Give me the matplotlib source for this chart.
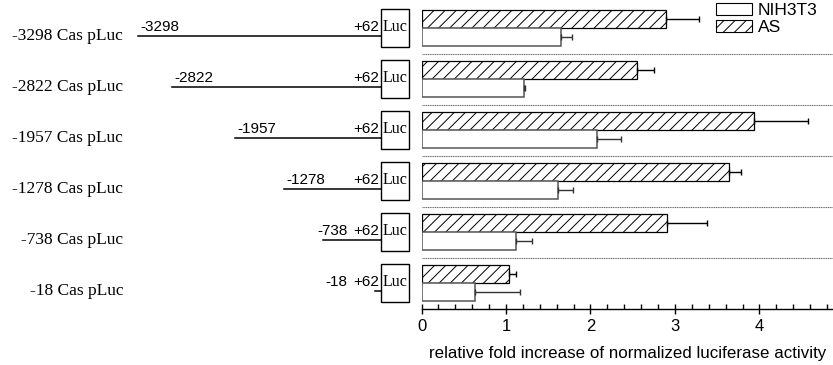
import matplotlib
matplotlib.use('Agg')
import matplotlib.pyplot as plt
from matplotlib.patches import Rectangle
from matplotlib.ticker import MultipleLocator

# data
constructs = ['-3298', '-2822', '-1957', '-1278', '-738', '-18']
starts = [-3298, -2822, -1957, -1278, -738, -18]
end_bp = 62
as_mean = [2.89, 2.55, 3.94, 3.64, 2.91, 1.03]
as_err = [0.39, 0.20, 0.63, 0.14, 0.47, 0.09]
nih_mean = [1.65, 1.21, 2.08, 1.61, 1.12, 0.63]
nih_err = [0.13, 0.02, 0.28, 0.18, 0.19, 0.54]
legend_labels = ['NIH3T3', 'AS']
xlabel = 'relative fold increase of normalized luciferase activity'

plt.rcParams['hatch.linewidth'] = 0.7
sans = 'Liberation Sans'
serif = 'Liberation Serif'

W, H = 833, 365
fig = plt.figure(figsize=(W / 100, H / 100), dpi=100)

ax_bottom = (H - 309) / H
ax_height = 309 / H
ylim = (5.51, -0.55)
n = len(constructs)
rows = list(range(n))
bh = 0.35

# ---- right: bars
ax = fig.add_axes([421.5 / W, ax_bottom, (W - 421.5) / W, ax_height])
ax.set_xlim(0, 4.87)
ax.set_ylim(*ylim)

ax.barh([r - bh / 2 for r in rows], as_mean, height=bh, color='white',
        edgecolor='black', linewidth=0.9, hatch='///', zorder=2)
ax.barh([r + bh / 2 for r in rows], nih_mean, height=bh, color='white',
        edgecolor='#555555', linewidth=1.1, zorder=2)
ax.errorbar(as_mean, [r - bh / 2 for r in rows],
            xerr=[[0] * n, as_err], fmt='none', ecolor='black',
            elinewidth=1, capsize=2.5, capthick=1, zorder=3)
ax.errorbar(nih_mean, [r + bh / 2 for r in rows],
            xerr=[[0] * n, nih_err], fmt='none', ecolor='#333333',
            elinewidth=1, capsize=2.5, capthick=1, zorder=3)

for r in rows[:-1]:
    ax.axhline(r + 0.5, color='#666666', lw=0.8, ls=(0, (1, 0.6)), zorder=1)

for s in ['left', 'top', 'right']:
    ax.spines[s].set_visible(False)
ax.spines['bottom'].set_linewidth(1)
ax.set_yticks([])
ax.xaxis.set_major_locator(MultipleLocator(1))
ax.xaxis.set_minor_locator(MultipleLocator(0.2))
ax.tick_params(axis='x', which='major', direction='inout', length=7, width=1,
               labelsize=12, pad=4)
ax.tick_params(axis='x', which='minor', direction='in', length=3.5, width=1)
for t in ax.get_xticklabels():
    t.set_fontfamily(sans)
ax.set_xlabel(xlabel, fontsize=12.2, fontfamily=sans, labelpad=8)

h1 = Rectangle((0, 0), 1, 1, facecolor='white', edgecolor='black', lw=0.8)
h2 = Rectangle((0, 0), 1, 1, facecolor='white', edgecolor='black', lw=0.8,
               hatch='///')
fig.legend([h1, h2], legend_labels, loc='upper left',
           bbox_to_anchor=(716 / W, 1 - 3 / H), frameon=False,
           prop={'family': sans, 'size': 12.5}, handlelength=2.1,
           handleheight=0.7, labelspacing=0.1, handletextpad=0.3,
           borderpad=0, borderaxespad=0)

# ---- left: construct diagrams (x in bp)
px_per_bp = 0.0723
box_w = 390
axl = fig.add_axes([0, ax_bottom, 421.5 / W, ax_height])
axl.set_xlim(end_bp - 381 / px_per_bp, end_bp + 40.5 / px_per_bp)
axl.set_ylim(*ylim)
axl.axis('off')
tr = axl.get_yaxis_transform()

for r, name, st in zip(rows, constructs, starts):
    yl = r + 0.15
    axl.plot([st, end_bp], [yl, yl], color='black', lw=1.1)
    axl.add_patch(Rectangle((end_bp, r - 0.37), box_w, 0.74,
                            facecolor='white', edgecolor='black', lw=1))
    axl.text(end_bp + box_w / 2, r - 0.02, 'Luc', ha='center', va='center',
             fontsize=11.5, fontfamily=serif)
    axl.annotate('+62', (end_bp, yl), xytext=(-1, 1),
                 textcoords='offset points', ha='right', va='bottom',
                 fontsize=11, fontfamily=sans)
    if (end_bp - st) * px_per_bp > 90:
        axl.annotate(name, (st, yl), xytext=(1.5, 1),
                     textcoords='offset points', ha='left', va='bottom',
                     fontsize=11, fontfamily=sans)
    else:
        axl.annotate(name, (end_bp, yl), xytext=(-24, 1),
                     textcoords='offset points', ha='right', va='bottom',
                     fontsize=11, fontfamily=sans)
    axl.text(123 / 421.5, yl, name + ' Cas pLuc', transform=tr, ha='right',
             va='center', fontsize=12.5, fontfamily=serif)

fig.savefig('out.png', dpi=100)
